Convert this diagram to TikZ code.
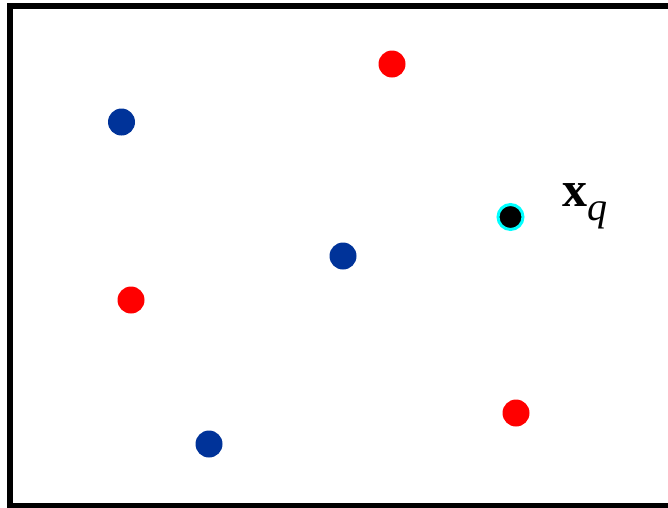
\documentclass[tikz,border=0pt]{standalone}
\usepackage{fontspec}
\setmainfont{Liberation Serif}
\definecolor{dotred}{RGB}{255,0,0}
\definecolor{dotblue}{RGB}{0,51,153}
\definecolor{ringcyan}{RGB}{0,255,255}
\tikzset{
  reddot/.style={circle,fill=dotred,inner sep=0pt,minimum size=27pt},
  bluedot/.style={circle,fill=dotblue,inner sep=0pt,minimum size=27pt},
  querydot/.style={circle,fill=black,draw=ringcyan,line width=3pt,inner sep=0pt,minimum size=25pt},
}
\begin{document}
\begin{tikzpicture}[x=1pt,y=-1pt]
\useasboundingbox (0,0) rectangle (668,507);
\clip (0,0) rectangle (668,507);
\draw[line width=6pt] (9.5,6) rectangle (700,506);
\node[reddot] (r1) at (392,64) {};
\node[bluedot] (b1) at (121.5,122) {};
\node[querydot] (q) at (510.5,217) {};
\node[bluedot] (b2) at (343,256) {};
\node[reddot] (r2) at (131,300) {};
\node[reddot] (r3) at (516,413) {};
\node[bluedot] (b3) at (209,444) {};
\node[anchor=base west,inner sep=0pt] (lbl) at (562,206) {\fontsize{50}{60}\selectfont\bfseries x\raisebox{-14pt}{\fontsize{40}{48}\selectfont\mdseries\itshape q}};
\end{tikzpicture}
\end{document}
